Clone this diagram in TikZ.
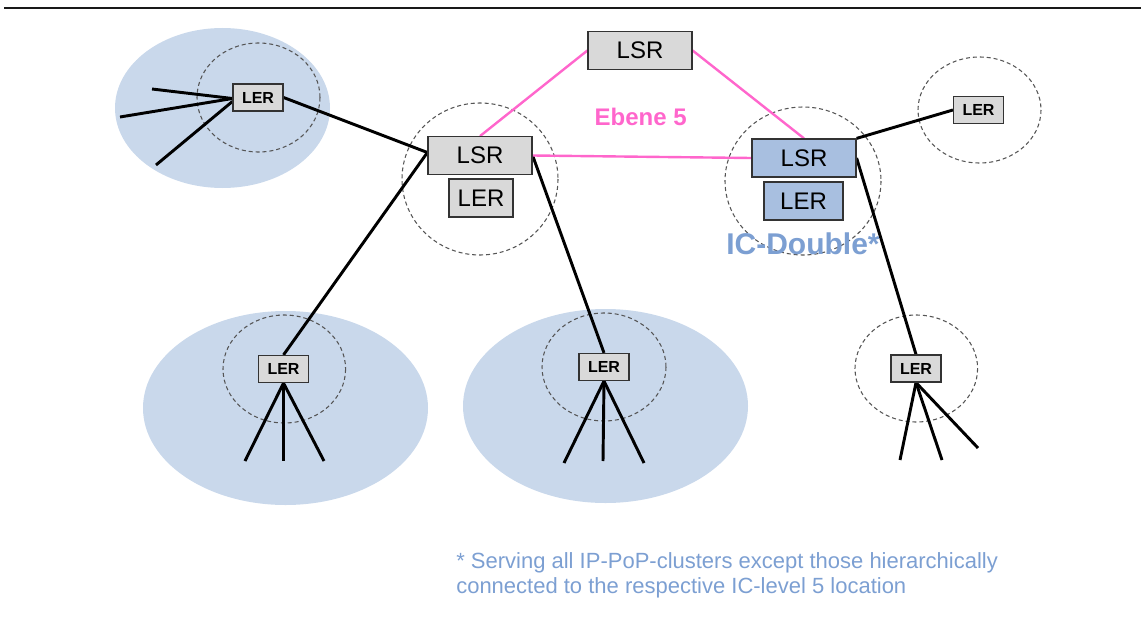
\documentclass[tikz,border=0pt]{standalone}
\usepackage{fontspec}
\setmainfont{Liberation Sans}
\usetikzlibrary{calc}
\definecolor{areablue}{HTML}{C9D8EB}
\definecolor{boxgray}{HTML}{D9D9D9}
\definecolor{boxblue}{HTML}{A8BFE0}
\definecolor{pinkline}{HTML}{FF66CC}
\definecolor{noteblue}{HTML}{7C9FD2}
\definecolor{dashgray}{HTML}{555555}
\pgfdeclarelayer{bg}
\pgfsetlayers{bg,main}
\tikzset{
  area/.style={fill=areablue, draw=none},
  zone/.style={draw=dashgray, line width=0.8pt, dash pattern=on 3pt off 2.2pt},
  bigbox/.style={draw=black!80, line width=0.9pt, fill=boxgray, inner sep=0pt, font=\fontsize{18}{20}\selectfont},
  smallbox/.style={draw=black!80, line width=0.9pt, fill=boxgray, inner sep=0pt, minimum width=37.5pt, minimum height=20.25pt, font=\fontsize{12}{14}\selectfont\bfseries},
  link/.style={line width=2.2pt, black},
  plink/.style={line width=1.8pt, pinkline},
}
\begin{document}
\begin{tikzpicture}[x=0.75pt,y=-0.75pt]
\useasboundingbox (0,0) rectangle (1141,617);
% top rule
\draw[line width=1.6pt, black!90] (4,8) -- (1141,8);
% nodes
\node[bigbox, minimum width=78pt, minimum height=28.2pt] (lsrT) at (640,50.5) {LSR};
\node[bigbox, minimum width=78pt, minimum height=28.2pt] (lsrM) at (480,155.5) {LSR};
\node[bigbox, minimum width=48pt, minimum height=28.5pt] (lerM) at (481,198) {LER};
\node[bigbox, fill=boxblue, minimum width=78pt, minimum height=28.5pt] (lsrR) at (804,158) {LSR};
\node[bigbox, fill=boxblue, minimum width=59.25pt, minimum height=28.5pt] (lerRB) at (803.5,201) {LER};
\node[smallbox] (lerTL) at (258,97.5) {LER};
\node[smallbox] (lerR) at (978.5,110) {LER};
\node[smallbox] (lerBL) at (283.5,369) {LER};
\node[smallbox] (lerBM) at (604,367) {LER};
\node[smallbox] (lerBR) at (916,368.5) {LER};
% free ends
\coordinate (tl1) at (152,89);
\coordinate (tl2) at (120,117);
\coordinate (tl3) at (156,165);
\coordinate (bl1) at (245,461);
\coordinate (bl2) at (283.5,461);
\coordinate (bl3) at (324,461);
\coordinate (bm1) at (564,463);
\coordinate (bm2) at (603,461);
\coordinate (bm3) at (644,463);
\coordinate (br1) at (900,460);
\coordinate (br2) at (942,460);
\coordinate (br3) at (978,448);
\begin{pgfonlayer}{bg}
% shaded areas
\fill[area] (222.5,108) ellipse [x radius=107.5, y radius=80];
\fill[area] (285.5,408) ellipse [x radius=142.5, y radius=97];
\fill[area] (605.5,406) ellipse [x radius=142.5, y radius=97];
% dashed zones
\draw[zone] (258.5,97.5) ellipse [x radius=61.5, y radius=54.5];
\draw[zone] (480,179) ellipse [x radius=78, y radius=76];
\draw[zone] (803,181) ellipse [x radius=78, y radius=74];
\draw[zone] (979.5,110) ellipse [x radius=61.5, y radius=53];
\draw[zone] (284.3,369) ellipse [x radius=61.3, y radius=54];
\draw[zone] (604,367) ellipse [x radius=62, y radius=54];
\draw[zone] (916.3,368.5) ellipse [x radius=61.3, y radius=53.5];
% black links
\draw[link] ($(lerTL.west)+(0,1)$) -- (tl1);
\draw[link] ($(lerTL.west)+(0,1)$) -- (tl2);
\draw[link] ($(lerTL.west)+(0,4)$) -- (tl3);
\draw[link] (lerTL.east) -- ($(lsrM.west)+(0,-3)$);
\draw[link] ($(lsrM.west)+(0,-3)$) -- (lerBL.north);
\draw[link] (lsrM.east) -- (lerBM.north);
\draw[link] (lsrR.north east) -- (lerR.west);
\draw[link] (lsrR.east) -- (lerBR.north);
\draw[link] (lerBL.south) -- (bl1);
\draw[link] (lerBL.south) -- (bl2);
\draw[link] (lerBL.south) -- (bl3);
\draw[link] (lerBM.south) -- (bm1);
\draw[link] (lerBM.south) -- (bm2);
\draw[link] (lerBM.south) -- (bm3);
\draw[link] (lerBR.south) -- (br1);
\draw[link] (lerBR.south) -- (br2);
\draw[link] (lerBR.south) -- (br3);
% pink links
\draw[plink] (lsrT.west) -- (lsrM.north);
\draw[plink] (lsrT.east) -- (lsrR.north);
\draw[plink] (lsrM.east) -- (lsrR.west);
\end{pgfonlayer}
% labels
\node[text=pinkline, font=\fontsize{18}{20}\selectfont\bfseries] (ebene) at (640.7,117.3) {Ebene 5};
\node[text=noteblue, font=\fontsize{22.5}{25}\selectfont\bfseries, anchor=base west, inner sep=0pt] (icd) at (726,254) {IC-Double*};
\node[text=noteblue, font=\fontsize{16.5}{18.75}\selectfont, anchor=base west, inner sep=0pt] (fn1) at (456,568) {* Serving all IP-PoP-clusters except those hierarchically};
\node[text=noteblue, font=\fontsize{16.5}{18.75}\selectfont, anchor=base west, inner sep=0pt] (fn2) at (456,593) {connected to the respective IC-level 5 location};
\end{tikzpicture}
\end{document}
